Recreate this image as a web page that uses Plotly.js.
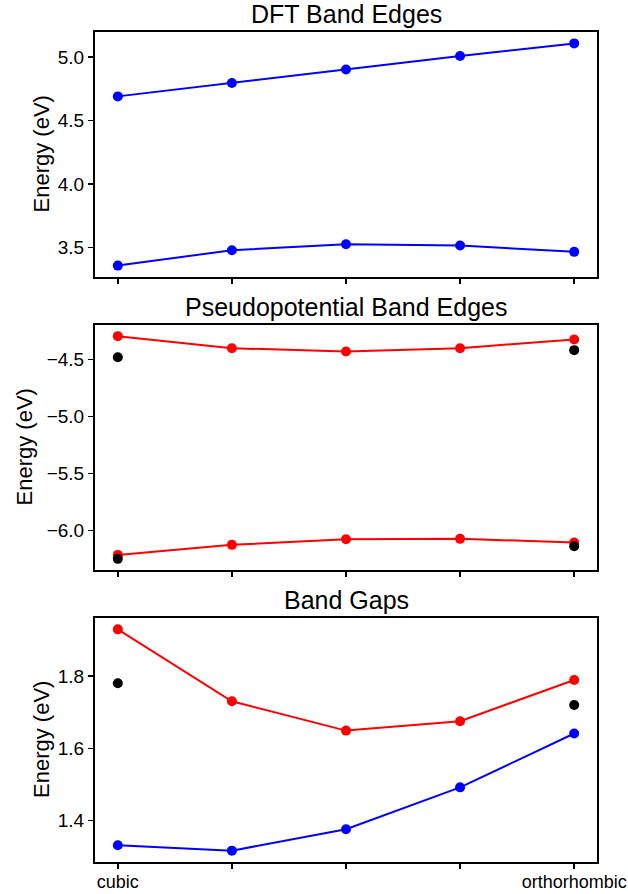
<!DOCTYPE html>
<html>
<head>
<meta charset="utf-8">
<script src="https://cdn.plot.ly/plotly-3.0.1.min.js"></script>
<style>
  html, body { margin: 0; padding: 0; background: #fff; }
  #plot { width: 628px; height: 894px; }
</style>
</head>
<body>
<div id="plot"></div>
<script>
// Structures along the distortion path (only the end points are labelled)
const structures = [0, 1, 2, 3, 4];
const structureLabels = ['cubic', '', '', '', 'orthorhombic'];

// DFT band edges (eV)
const dftUpper = [4.690, 4.795, 4.902, 5.008, 5.107];
const dftLower = [3.358, 3.479, 3.526, 3.516, 3.466];

// Pseudopotential band edges (eV)
const ppUpper = [-4.292, -4.398, -4.427, -4.398, -4.321];
const ppLower = [-6.215, -6.127, -6.077, -6.074, -6.106];
// Reference values at the two end structures
const refX = [0, 4];
const ppRefUpper = [-4.477, -4.415];
const ppRefLower = [-6.250, -6.139];

// Band gaps (eV)
const gapPP = [1.929, 1.730, 1.649, 1.675, 1.789];
const gapDFT = [1.332, 1.317, 1.376, 1.492, 1.641];
const gapRef = [1.780, 1.720];

// Tick positions per panel
const ticks1 = [3.5, 4.0, 4.5, 5.0];
const ticks2 = [-6.0, -5.5, -5.0, -4.5];
const ticks3 = [1.4, 1.6, 1.8];

const FONT = '"Liberation Sans", Arial, sans-serif';
const BLUE = '#0000ff', RED = '#ff0000', BLACK = '#000000';

// matplotlib-like 5% padding around the data
function padRange(arrays) {
  const all = [].concat(...arrays);
  const lo = Math.min(...all), hi = Math.max(...all);
  const m = (hi - lo) * 0.05;
  return [lo - m, hi + m];
}

function lineTrace(x, y, color, xa, ya) {
  return {
    x: x, y: y, xaxis: xa, yaxis: ya, type: 'scatter', mode: 'lines+markers',
    line: { color: color, width: 2 },
    marker: { color: color, size: 10 },
    hoverinfo: 'x+y', showlegend: false
  };
}
function dotTrace(x, y, color, xa, ya) {
  return {
    x: x, y: y, xaxis: xa, yaxis: ya, type: 'scatter', mode: 'markers',
    marker: { color: color, size: 10 },
    hoverinfo: 'x+y', showlegend: false
  };
}

const traces = [
  lineTrace(structures, dftUpper, BLUE, 'x', 'y'),
  lineTrace(structures, dftLower, BLUE, 'x', 'y'),
  lineTrace(structures, ppUpper, RED, 'x2', 'y2'),
  lineTrace(structures, ppLower, RED, 'x2', 'y2'),
  dotTrace(refX, ppRefUpper, BLACK, 'x2', 'y2'),
  dotTrace(refX, ppRefLower, BLACK, 'x2', 'y2'),
  lineTrace(structures, gapPP, RED, 'x3', 'y3'),
  lineTrace(structures, gapDFT, BLUE, 'x3', 'y3'),
  dotTrace(refX, gapRef, BLACK, 'x3', 'y3')
];

const H = 894, mt = 32, mb = 32;
const plotH = H - mt - mb;
// panel frames in page pixels (top, bottom)
const frames = [[32.3, 276.7], [325, 570], [618.3, 861.7]];
const dom = frames.map(([t, b]) => [(H - mb - b) / plotH, (H - mb - t) / plotH]);

function xAxis(anchor, labels) {
  return {
    domain: [0, 1], anchor: anchor, range: [-0.2, 4.2],
    tickmode: 'array', tickvals: structures, ticktext: labels,
    ticks: 'outside', ticklen: 5, tickwidth: 1.4, tickcolor: '#000',
    ticklabeloverflow: 'allow', ticklabelstandoff: -2,
    showline: true, linewidth: 2, linecolor: '#000', mirror: true,
    showgrid: false, zeroline: false,
    tickfont: { family: FONT, size: 18, color: '#000' }
  };
}
function yAxis(anchor, d, range, tv) {
  return {
    domain: d, anchor: anchor, range: range,
    tickmode: 'array', tickvals: tv, tickformat: '.1f',
    ticks: 'outside', ticklen: 5, tickwidth: 1.4, tickcolor: '#000',
    showline: true, linewidth: 2, linecolor: '#000', mirror: true,
    showgrid: false, zeroline: false,
    tickfont: { family: FONT, size: 19, color: '#000' }
  };
}

const blank = structures.map(() => '');

const panelTitles = ['DFT Band Edges', 'Pseudopotential Band Edges', 'Band Gaps'];
const yTitleX = [41, 24, 41];

const annotations = [];
panelTitles.forEach((t, i) => {
  annotations.push({
    text: t, xref: 'paper', yref: 'paper', x: 0.5, y: dom[i][1],
    xanchor: 'center', yanchor: 'bottom', yshift: 2, showarrow: false,
    font: { family: FONT, size: 25, color: '#000' }
  });
  annotations.push({
    text: 'Energy (eV)', xref: 'paper', yref: 'paper',
    x: (yTitleX[i] - 95) / 502, y: (dom[i][0] + dom[i][1]) / 2,
    xanchor: 'center', yanchor: 'middle', textangle: -90, showarrow: false,
    font: { family: FONT, size: 22, color: '#000' }
  });
});

const layout = {
  width: 628, height: H,
  margin: { l: 95, r: 31, t: mt, b: mb },
  paper_bgcolor: '#fff', plot_bgcolor: '#fff',
  showlegend: false,
  xaxis: xAxis('y', blank),
  xaxis2: xAxis('y2', blank),
  xaxis3: xAxis('y3', structureLabels),
  yaxis: yAxis('x', dom[0], padRange([dftUpper, dftLower]), ticks1),
  yaxis2: yAxis('x2', dom[1], padRange([ppUpper, ppLower, ppRefUpper, ppRefLower]), ticks2),
  yaxis3: yAxis('x3', dom[2], padRange([gapPP, gapDFT, gapRef]), ticks3),
  annotations: annotations
};

Plotly.newPlot('plot', traces, layout, { displayModeBar: false, staticPlot: true });
</script>
</body>
</html>
